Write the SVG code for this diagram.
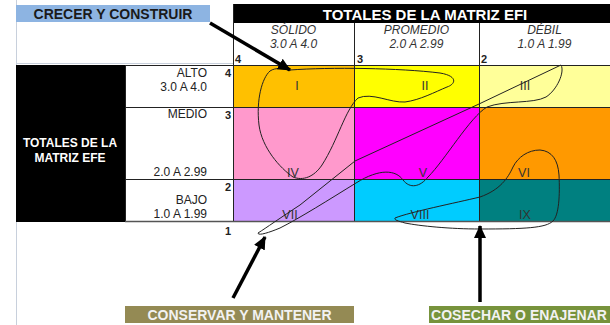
<svg xmlns="http://www.w3.org/2000/svg" width="610" height="325" viewBox="0 0 610 325">
<style>
.t{font-family:"Liberation Sans",Arial,sans-serif}
.hd{font-family:"Liberation Sans",Arial,sans-serif;font-weight:bold;fill:#fff}
.ch{font-family:"Liberation Sans",Arial,sans-serif;font-style:italic;font-size:12px;fill:#333;text-anchor:middle}
.rl{font-family:"Liberation Sans",Arial,sans-serif;font-size:12px;fill:#222;text-anchor:end}
.nm{font-family:"Liberation Sans",Arial,sans-serif;font-size:11px;font-weight:bold;fill:#222}
.cl{font-family:"Liberation Sans",Arial,sans-serif;font-size:12.5px;fill:#333;text-anchor:middle}
.gl{stroke:#222;stroke-width:1;fill:none}
.loop{fill:none;stroke:#222;stroke-width:1}
.arr{stroke:#000;stroke-width:3.5;fill:none;marker-end:url(#ah)}
.lbl{font-family:"Liberation Sans",Arial,sans-serif;font-size:14px;font-weight:bold;text-anchor:middle}
</style>
<defs>
<marker id="ah" markerUnits="userSpaceOnUse" markerWidth="14" markerHeight="12" refX="12" refY="6" orient="auto">
<path d="M0,0 L13,6 L0,12 Z" fill="#000"/>
</marker>
</defs>
<rect width="610" height="325" fill="#fff"/>
<line x1="16.5" y1="0" x2="16.5" y2="325" stroke="#c8d0dc" stroke-width="1"/>
<line x1="16" y1="63.5" x2="233" y2="63.5" stroke="#c8d0dc" stroke-width="1"/>

<g id="label-crecer">
<rect x="16" y="5" width="194" height="17" fill="#8DB4E2"/>
<text class="t" x="113" y="19" font-size="14" font-weight="bold" fill="#1a1a1a" text-anchor="middle">CRECER Y CONSTRUIR</text>
</g>

<g id="header-efi">
<rect x="233" y="4" width="377" height="19" fill="#000"/>
<text class="hd" x="425" y="19.5" font-size="15" text-anchor="middle">TOTALES DE LA MATRIZ EFI</text>
</g>

<g id="col-headers">
<rect x="233" y="23" width="377" height="42" fill="#fff"/>
<text class="ch" x="293.5" y="34">SÓLIDO</text>
<text class="ch" x="293.5" y="48">3.0 A 4.0</text>
<text class="ch" x="416.5" y="34">PROMEDIO</text>
<text class="ch" x="416.5" y="48">2.0 A 2.99</text>
<text class="ch" x="544.5" y="34">DÉBIL</text>
<text class="ch" x="544.5" y="48">1.0 A 1.99</text>
<text class="nm" x="235" y="63">4</text>
<text class="nm" x="357" y="63">3</text>
<text class="nm" x="481" y="63">2</text>
</g>

<g id="header-efe">
<rect x="16" y="65" width="109" height="157" fill="#000"/>
<text class="hd" x="70" y="147" font-size="12" text-anchor="middle">TOTALES DE LA</text>
<text class="hd" x="70" y="162" font-size="12" text-anchor="middle">MATRIZ EFE</text>
</g>

<g id="row-labels">
<rect x="125" y="65" width="108" height="157" fill="#fff"/>
<text class="rl" x="207" y="77">ALTO</text>
<text class="rl" x="207" y="91">3.0 A 4.0</text>
<text class="rl" x="207" y="118">MEDIO</text>
<text class="rl" x="207" y="176">2.0 A 2.99</text>
<text class="rl" x="207" y="204">BAJO</text>
<text class="rl" x="207" y="218">1.0 A 1.99</text>
<text class="nm" x="225" y="77">4</text>
<text class="nm" x="225" y="119">3</text>
<text class="nm" x="225" y="191">2</text>
<text class="nm" x="225" y="235">1</text>
</g>

<g id="cell-I"><rect x="233" y="65" width="121" height="42" fill="#FFC000"/><text class="cl" x="297" y="90">I</text></g>
<g id="cell-II"><rect x="354" y="65" width="125" height="42" fill="#FFFF00"/><text class="cl" x="425" y="90">II</text></g>
<g id="cell-III"><rect x="479" y="65" width="131" height="42" fill="#FFFF99"/><text class="cl" x="525" y="90">III</text></g>
<g id="cell-IV"><rect x="233" y="107" width="121" height="72" fill="#FF99CC"/><text class="cl" x="293" y="177">IV</text></g>
<g id="cell-V"><rect x="354" y="107" width="125" height="72" fill="#FF00FF"/><text class="cl" x="423" y="177">V</text></g>
<g id="cell-VI"><rect x="479" y="107" width="131" height="72" fill="#FF9900"/><text class="cl" x="524" y="177">VI</text></g>
<g id="cell-VII"><rect x="233" y="179" width="121" height="43" fill="#CC99FF"/><text class="cl" x="290" y="219">VII</text></g>
<g id="cell-VIII"><rect x="354" y="179" width="125" height="43" fill="#00CCFF"/><text class="cl" x="420" y="219">VIII</text></g>
<g id="cell-IX"><rect x="479" y="179" width="131" height="43" fill="#008080"/><text class="cl" x="525" y="219">IX</text></g>

<g id="grid">
<path class="gl" d="M233.5 4V222 M354.5 23V222 M479.5 23V222 M125.5 65V222 M125 65.5H610 M125 107.5H610 M125 179.5H610"/>
<path d="M125 221.5H610" stroke="#555" stroke-width="1.5" fill="none"/>
</g>

<g id="connectors">
<path class="loop" d="M290 70 C330 67 400 68 440 73 C458 76 456 84 447 87 C435 92 420 100 405 102 C390 103 372 92 358 98 C345 110 338 140 322 165 C314 177 303 181 293 177 C280 168 262 148 259 125 C256 100 262 78 270 71 C276 67 283 69 290 70 Z"/>
<path class="loop" d="M258 233 C266 228 280 218 300 205 L355 161 L479 104 L561 65 C565 72 557 90 546 97 C533 104 505 100 487 107 C470 117 445 160 428 177 C420 187 410 189 403 180 C396 170 380 168 356 183 C330 199 300 218 280 228 C268 233 258 236 258 233 Z"/>
<path class="loop" d="M395 218 C410 212 455 203 480 197 C500 190 508 178 513 167 C518 157 528 150 540 150 C552 151 558 160 559 175 C560 195 559 215 553 221 C546 228 525 229 480 229 C450 229 420 226 405 223 C398 221 394 220 395 218 Z"/>
<line class="arr" x1="210" y1="23" x2="290" y2="70"/>
<line class="arr" x1="233" y1="298" x2="265" y2="237"/>
<line class="arr" x1="480" y1="302" x2="480" y2="226"/>
</g>

<g id="label-conservar">
<rect x="125" y="306" width="229" height="17" fill="#948A54"/>
<text class="lbl" x="239.5" y="319.5" fill="#F2F2F2">CONSERVAR Y MANTENER</text>
</g>
<g id="label-cosechar">
<rect x="429" y="306" width="181" height="17" fill="#77933C"/>
<text class="lbl" x="519" y="319.5" fill="#F2F2F2">COSECHAR O ENAJENAR</text>
</g>
</svg>
